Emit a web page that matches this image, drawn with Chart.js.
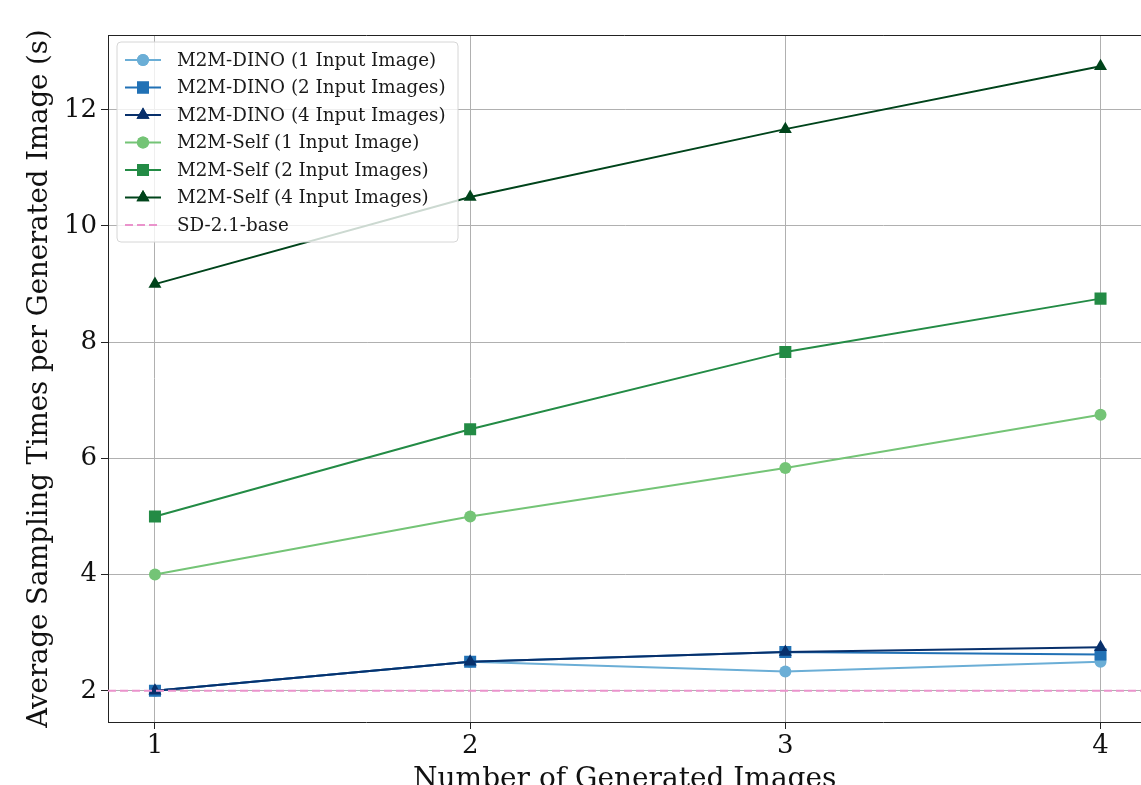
<!DOCTYPE html>
<html>
<head>
<meta charset="utf-8">
<script src="https://cdn.jsdelivr.net/npm/chart.js@4"></script>
<style>
  html, body { margin: 0; padding: 0; background: #fff; overflow: hidden; }
  #wrap { width: 1150px; height: 810px; position: relative; }
  canvas { position: absolute; left: 0; top: 0; }
</style>
</head>
<body>
<div id="wrap"><canvas id="timeChart" width="1150" height="810"></canvas></div>
<script>
// number of generated images
const generated = [1, 2, 3, 4];

// seconds per generated image
const dino1 = [2.0, 2.5, 2.333, 2.5];
const dino2 = [2.0, 2.5, 2.667, 2.625];
const dino4 = [2.0, 2.5, 2.667, 2.75];
const self1 = [4.0, 5.0, 5.833, 6.75];
const self2 = [5.0, 6.5, 7.833, 8.75];
const self4 = [9.0, 10.5, 11.667, 12.75];
const sdBase = 2.0;

const xTicks = [1, 2, 3, 4];
const yTicks = [2, 4, 6, 8, 10, 12];
const xRange = [0.851, 4.13];
const yRange = [1.4625, 13.2875];

const serif = "'DejaVu Serif', 'Liberation Serif', serif";
const markerSize = { circle: 6, rect: 8.5, triangle: 7.5 };

function pts(vals) {
    return vals.map((v, i) => ({ x: generated[i], y: v }));
}

const series = [
    { label: 'M2M-DINO (1 Input Image)', data: dino1, color: '#6baed6', marker: 'circle' },
    { label: 'M2M-DINO (2 Input Images)', data: dino2, color: '#2171b5', marker: 'rect' },
    { label: 'M2M-DINO (4 Input Images)', data: dino4, color: '#08306b', marker: 'triangle' },
    { label: 'M2M-Self (1 Input Image)', data: self1, color: '#74c476', marker: 'circle' },
    { label: 'M2M-Self (2 Input Images)', data: self2, color: '#238b45', marker: 'rect' },
    { label: 'M2M-Self (4 Input Images)', data: self4, color: '#00441b', marker: 'triangle' }
];

const datasets = series.map((s, i) => ({
    label: s.label,
    data: pts(s.data),
    borderColor: s.color,
    backgroundColor: s.color,
    borderWidth: 2,
    pointStyle: s.marker,
    pointRadius: markerSize[s.marker],
    pointBorderWidth: 0,
    order: series.length + 1 - i
}));

datasets.push({
    label: 'SD-2.1-base',
    data: [{ x: xRange[0], y: sdBase }, { x: xRange[1], y: sdBase }],
    borderColor: '#ea93cc',
    borderWidth: 2,
    borderDash: [8, 4],
    pointRadius: 0,
    order: 0
});

// legend box drawn inside the plot, matplotlib style
const innerLegend = {
    id: 'innerLegend',
    afterDraw(chart) {
        const ctx = chart.ctx;
        const x0 = 117, y0 = 42, w = 341, h = 200;
        ctx.save();
        ctx.beginPath();
        ctx.roundRect(x0, y0, w, h, 4);
        ctx.fillStyle = 'rgba(255,255,255,0.8)';
        ctx.fill();
        ctx.strokeStyle = '#d6d6d6';
        ctx.lineWidth = 1;
        ctx.stroke();
        ctx.font = '18.3px ' + serif;
        ctx.textBaseline = 'middle';
        chart.data.datasets.forEach((ds, i) => {
            const cy = 60 + i * 27.5;
            ctx.beginPath();
            ctx.setLineDash(ds.borderDash || []);
            ctx.strokeStyle = ds.borderColor;
            ctx.lineWidth = 2;
            ctx.moveTo(125, cy);
            ctx.lineTo(161, cy);
            ctx.stroke();
            ctx.setLineDash([]);
            if (ds.pointRadius) {
                ctx.fillStyle = ds.backgroundColor;
                Chart.helpers.drawPoint(ctx, { pointStyle: ds.pointStyle, radius: ds.pointRadius, borderWidth: 0, rotation: 0 }, 143, cy);
                ctx.fill();
            }
            ctx.fillStyle = '#1a1a1a';
            ctx.fillText(ds.label, 177, cy + 1);
        });
        ctx.restore();
    }
};

// top spine
const topSpine = {
    id: 'topSpine',
    afterDatasetsDraw(chart) {
        const { ctx, chartArea } = chart;
        ctx.save();
        ctx.strokeStyle = '#222';
        ctx.lineWidth = 1;
        ctx.beginPath();
        ctx.moveTo(chartArea.left, chartArea.top + 0.5);
        ctx.lineTo(chartArea.right, chartArea.top + 0.5);
        ctx.stroke();
        ctx.restore();
    }
};

const ctx = document.getElementById('timeChart').getContext('2d');
new Chart(ctx, {
    type: 'line',
    data: { datasets: datasets },
    options: {
        responsive: false,
        animation: false,
        layout: { padding: { left: 0, top: 35, right: 3, bottom: 0 } },
        plugins: { legend: { display: false }, tooltip: { enabled: false } },
        scales: {
            x: {
                type: 'linear',
                min: xRange[0],
                max: xRange[1],
                afterBuildTicks: (s) => { s.ticks = xTicks.map(v => ({ value: v })); },
                afterFit: (s) => { s.height = 88; },
                grid: { color: '#b0b0b0', lineWidth: 1, tickColor: '#222', tickLength: 7 },
                border: { display: true, color: '#222', width: 1 },
                ticks: { color: '#111', font: { family: serif, size: 26 }, padding: 2, maxRotation: 0 },
                title: {
                    display: true,
                    text: 'Number of Generated Images',
                    color: '#111',
                    font: { family: serif, size: 28 },
                    padding: { top: 0, bottom: 13 }
                }
            },
            y: {
                type: 'linear',
                min: yRange[0],
                max: yRange[1],
                afterBuildTicks: (s) => { s.ticks = yTicks.map(v => ({ value: v })); },
                afterFit: (s) => { s.width = 108; },
                grid: { color: '#b0b0b0', lineWidth: 1, tickColor: '#222', tickLength: 7 },
                border: { display: true, color: '#222', width: 1 },
                ticks: { color: '#111', font: { family: serif, size: 26 }, padding: 4 },
                title: {
                    display: true,
                    text: 'Average Sampling Times per Generated Image (s)',
                    color: '#111',
                    font: { family: serif, size: 27.5 },
                    padding: { top: 23.5, bottom: 0 }
                }
            }
        }
    },
    plugins: [innerLegend, topSpine]
});
</script>
</body>
</html>
